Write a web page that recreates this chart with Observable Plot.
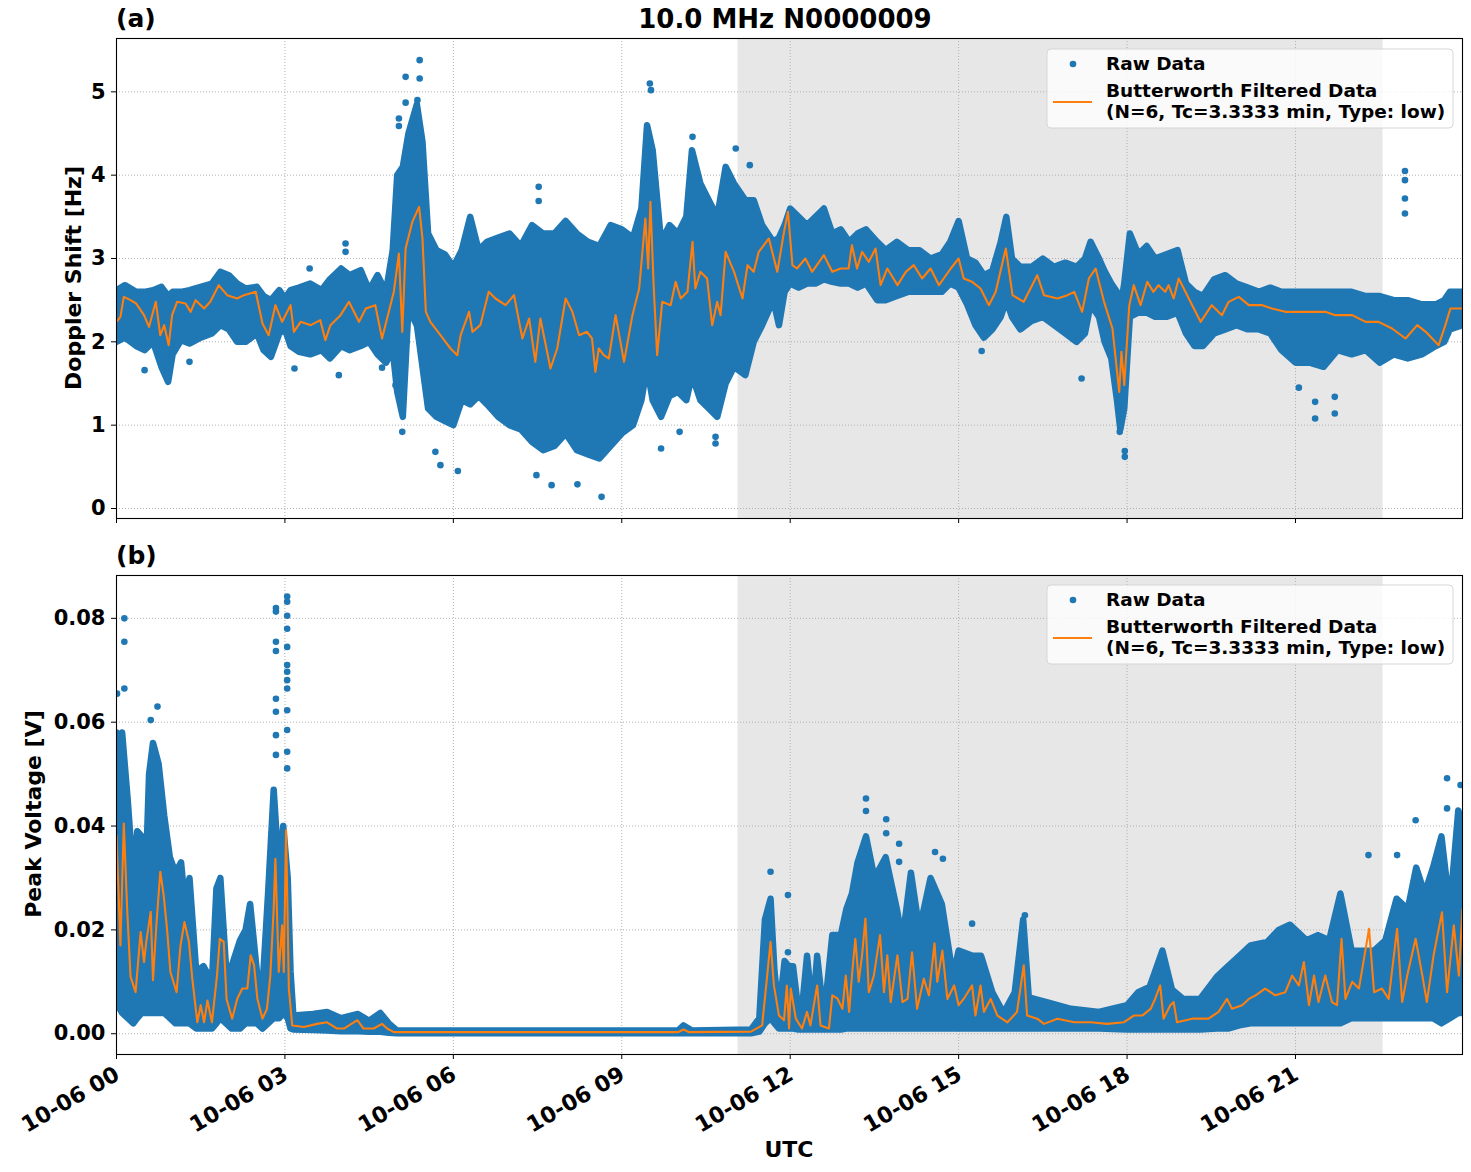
<!DOCTYPE html>
<html>
<head>
<meta charset="utf-8">
<script src="https://cdn.jsdelivr.net/npm/d3@7"></script>
<script src="https://cdn.jsdelivr.net/npm/@observablehq/plot@0.6"></script>
<style>
  body { margin: 0; background: #fff; }
  #fig { position: relative; width: 1471px; height: 1172px; overflow: hidden; background: #fff; }
  #fig > div.panel { position: absolute; left: 0; }
  #overlay { position: absolute; left: 0; top: 0; pointer-events: none; }
  #overlay text { font-family: "DejaVu Sans", sans-serif; font-weight: bold; fill: #000; }
</style>
</head>
<body>
<div id="fig">
  <div class="panel" id="panelA" style="top:0px"></div>
  <div class="panel" id="panelB" style="top:540px"></div>
  <svg id="overlay" width="1471" height="1172"></svg>
</div>
<script>
// ---- time axis (hours of 2024-10-06 UTC) ----
const hourTicks = [0, 3, 6, 9, 12, 15, 18, 21];
const timeDomain = [0, 23.975];
const nightShade = { start: 11.07, end: 22.56 };

// ---- Doppler shift [Hz] ----
const dopplerTicks = [0, 1, 2, 3, 4, 5];
// raw-data cloud: [hour, lower edge, upper edge]
const dopplerRawBand = [
  [0.0,2.0,2.62],[0.15,2.05,2.68],[0.35,1.95,2.6],[0.5,1.9,2.6],[0.65,2.0,2.62],[0.8,1.7,2.66],
  [0.92,1.52,2.55],[1.0,1.85,2.6],[1.15,2.02,2.6],[1.3,1.98,2.62],[1.5,2.05,2.66],[1.7,2.1,2.7],
  [1.85,2.2,2.84],[2.0,2.15,2.8],[2.15,2.0,2.7],[2.3,2.0,2.64],[2.5,2.1,2.66],[2.62,1.9,2.55],
  [2.75,1.82,2.5],[2.9,2.1,2.62],[3.0,2.15,2.52],[3.1,1.95,2.62],[3.25,1.88,2.65],[3.45,1.85,2.7],
  [3.65,1.9,2.62],[3.8,1.8,2.75],[4.0,1.95,2.88],[4.15,1.9,2.8],[4.35,1.95,2.86],[4.5,2.0,2.62],
  [4.65,1.85,2.8],[4.8,1.75,2.6],[4.92,1.9,3.1],[5.0,1.4,4.0],[5.1,1.1,4.1],[5.2,2.4,4.5],
  [5.35,2.2,4.85],[5.45,1.7,4.4],[5.55,1.2,3.3],[5.7,1.1,3.1],[5.85,1.05,3.05],[6.0,1.0,2.9],
  [6.15,1.3,3.1],[6.3,1.25,3.5],[6.45,1.35,3.1],[6.6,1.25,3.2],[6.8,1.1,3.25],[7.0,1.0,3.3],
  [7.2,0.95,3.15],[7.4,0.8,3.4],[7.6,0.7,3.3],[7.8,0.75,3.3],[8.0,0.9,3.45],[8.2,0.7,3.3],
  [8.4,0.65,3.2],[8.6,0.6,3.15],[8.8,0.75,3.4],[9.0,0.9,3.35],[9.2,1.0,3.25],[9.35,1.3,3.6],
  [9.45,1.7,4.6],[9.55,1.3,4.3],[9.7,1.1,3.2],[9.85,1.35,3.4],[10.0,1.4,3.3],[10.15,1.3,3.5],
  [10.25,1.6,4.3],[10.4,1.3,3.9],[10.55,1.2,3.7],[10.7,1.1,3.5],[10.85,1.5,4.1],[11.0,1.7,3.9],
  [11.2,1.6,3.7],[11.35,2.0,3.7],[11.5,2.2,3.4],[11.7,2.5,3.2],[11.8,2.2,3.25],[11.9,2.6,3.4],
  [12.0,2.7,3.6],[12.15,2.65,3.5],[12.3,2.7,3.4],[12.45,2.7,3.5],[12.6,2.75,3.6],[12.75,2.72,3.3],
  [12.9,2.7,3.35],[13.05,2.7,3.2],[13.2,2.65,3.3],[13.35,2.7,3.35],[13.55,2.5,3.2],[13.7,2.5,3.1],
  [13.9,2.55,3.2],[14.1,2.6,3.1],[14.3,2.6,3.1],[14.5,2.6,3.0],[14.7,2.6,3.05],[14.85,2.7,3.2],
  [15.0,2.65,3.45],[15.15,2.45,3.0],[15.3,2.2,2.95],[15.45,2.05,2.8],[15.6,2.15,2.85],[15.75,2.3,3.2],
  [15.85,2.5,3.5],[15.95,2.3,3.0],[16.1,2.15,2.9],[16.3,2.25,2.9],[16.5,2.3,3.0],[16.7,2.2,2.9],
  [16.9,2.1,2.95],[17.1,2.0,2.9],[17.25,2.1,3.0],[17.35,2.45,3.2],[17.5,2.3,3.0],[17.6,2.0,2.85],
  [17.72,1.8,2.7],[17.82,1.3,2.6],[17.88,0.95,2.4],[17.95,1.2,2.7],[18.05,2.3,3.3],[18.2,2.35,3.05],
  [18.35,2.35,3.15],[18.5,2.3,3.0],[18.7,2.3,3.05],[18.9,2.35,3.1],[19.05,2.1,2.7],[19.2,1.95,2.6],
  [19.35,1.95,2.55],[19.55,2.1,2.75],[19.75,2.15,2.8],[19.95,2.2,2.7],[20.15,2.15,2.65],[20.35,2.15,2.6],
  [20.55,2.1,2.65],[20.75,1.9,2.6],[21.0,1.75,2.6],[21.25,1.75,2.6],[21.5,1.7,2.6],[21.75,1.9,2.6],
  [22.0,1.85,2.6],[22.25,1.9,2.55],[22.5,1.75,2.55],[22.75,1.85,2.5],[23.0,1.8,2.5],[23.25,1.85,2.45],
  [23.5,1.95,2.45],[23.65,2.0,2.5],[23.75,2.15,2.6],[23.975,2.2,2.6]
];
// isolated raw samples: [hour, Hz]
const dopplerRawOutliers = [
  [5.4,5.38],[5.15,5.18],[5.4,5.16],[5.15,4.87],[5.36,4.9],[5.03,4.68],[5.03,4.59],[5.09,0.92],
  [4.97,1.48],[5.77,0.52],[5.68,0.68],[4.08,3.18],[4.08,3.08],[3.44,2.88],[3.96,1.6],[0.5,1.66],
  [1.3,1.76],[4.73,1.69],[3.17,1.68],[9.5,5.1],[9.52,5.02],[10.26,4.46],[11.03,4.32],[7.52,3.86],
  [7.52,3.69],[11.28,4.12],[8.64,0.14],[7.75,0.28],[8.21,0.29],[7.48,0.4],[6.08,0.45],[9.7,0.72],
  [10.03,0.92],[10.67,0.78],[10.67,0.86],[15.41,1.89],[17.19,1.56],[17.96,0.62],[17.96,0.69],
  [17.87,0.92],[21.35,1.28],[21.35,1.08],[21.7,1.14],[21.7,1.34],[21.06,1.45],
  [22.95,4.05],[22.95,3.94],[22.95,3.72],[22.95,3.54]
];
// Butterworth low-pass output: [hour, Hz]
const dopplerFiltered = [
  [0,2.24],[0.07,2.3],[0.13,2.54],[0.25,2.5],[0.35,2.46],[0.49,2.32],[0.58,2.18],[0.7,2.48],[0.78,2.08],
  [0.85,2.2],[0.93,1.96],[0.99,2.32],[1.08,2.48],[1.23,2.46],[1.32,2.36],[1.41,2.5],[1.56,2.4],[1.67,2.48],
  [1.82,2.68],[1.97,2.56],[2.15,2.52],[2.27,2.56],[2.48,2.6],[2.6,2.22],[2.71,2.08],[2.83,2.44],[2.95,2.24],
  [3.1,2.44],[3.16,2.12],[3.28,2.24],[3.46,2.2],[3.63,2.26],[3.72,2.02],[3.81,2.2],[3.99,2.32],[4.14,2.48],
  [4.32,2.24],[4.44,2.4],[4.61,2.44],[4.73,2.04],[4.94,2.6],[5.03,3.06],[5.09,2.12],[5.15,3.12],[5.27,3.44],
  [5.39,3.62],[5.45,3.24],[5.51,2.36],[5.59,2.24],[5.77,2.08],[5.95,1.92],[6.07,1.84],[6.13,2.08],[6.28,2.36],
  [6.34,2.12],[6.48,2.2],[6.63,2.6],[6.75,2.52],[6.93,2.44],[7.08,2.56],[7.23,2.04],[7.35,2.28],[7.46,1.76],
  [7.55,2.28],[7.73,1.68],[7.85,1.92],[8.0,2.52],[8.12,2.36],[8.24,2.08],[8.38,2.12],[8.47,2.04],[8.53,1.64],
  [8.59,1.92],[8.68,1.84],[8.77,1.8],[8.89,2.32],[9.04,1.76],[9.19,2.32],[9.31,2.64],[9.42,3.48],[9.47,2.88],
  [9.51,3.68],[9.57,2.64],[9.63,1.84],[9.72,2.48],[9.87,2.44],[9.96,2.72],[10.05,2.52],[10.17,2.6],[10.26,3.2],
  [10.31,2.64],[10.4,2.84],[10.52,2.76],[10.61,2.2],[10.7,2.48],[10.76,2.32],[10.85,3.08],[11.0,2.84],
  [11.15,2.52],[11.24,2.92],[11.35,2.84],[11.44,3.08],[11.62,3.24],[11.77,2.84],[11.89,3.32],[11.96,3.56],
  [12.04,2.92],[12.12,2.88],[12.27,3.0],[12.39,2.84],[12.6,3.04],[12.75,2.84],[12.9,2.88],[13.04,2.88],
  [13.1,3.16],[13.19,2.88],[13.28,3.08],[13.4,2.96],[13.52,3.12],[13.61,2.68],[13.73,2.88],[13.91,2.68],
  [14.06,2.84],[14.2,2.92],[14.35,2.76],[14.5,2.88],[14.65,2.68],[14.86,2.88],[15.0,3.0],[15.09,2.76],
  [15.24,2.72],[15.39,2.64],[15.54,2.44],[15.66,2.6],[15.84,3.12],[15.96,2.56],[16.16,2.48],[16.4,2.8],
  [16.52,2.56],[16.76,2.52],[16.94,2.56],[17.06,2.6],[17.2,2.36],[17.32,2.76],[17.44,2.88],[17.59,2.48],
  [17.74,2.16],[17.86,1.4],[17.9,1.88],[17.95,1.48],[18.04,2.44],[18.12,2.68],[18.24,2.44],[18.36,2.72],
  [18.47,2.6],[18.56,2.68],[18.68,2.6],[18.74,2.68],[18.83,2.52],[18.92,2.76],[19.04,2.6],[19.16,2.44],
  [19.31,2.24],[19.51,2.44],[19.69,2.32],[19.81,2.48],[19.99,2.54],[20.17,2.44],[20.41,2.44],[20.58,2.4],
  [20.82,2.36],[21.06,2.36],[21.3,2.36],[21.53,2.36],[21.71,2.32],[22.01,2.32],[22.25,2.24],[22.48,2.24],
  [22.72,2.16],[22.96,2.04],[23.17,2.2],[23.32,2.12],[23.55,1.96],[23.67,2.2],[23.76,2.4],[23.975,2.4]
];

// ---- Peak voltage [V] ----
const voltageTicks = [0, 0.02, 0.04, 0.06, 0.08];
const voltageRawBand = [
  [0.0,0.006,0.058],[0.05,0.005,0.052],[0.1,0.004,0.058],[0.2,0.003,0.045],[0.3,0.002,0.03],[0.37,0.003,0.039],
  [0.45,0.004,0.038],[0.52,0.004,0.03],[0.58,0.004,0.05],[0.65,0.004,0.056],[0.75,0.004,0.052],[0.85,0.004,0.042],
  [0.95,0.003,0.034],[1.05,0.002,0.031],[1.15,0.002,0.033],[1.22,0.002,0.025],[1.3,0.002,0.03],[1.42,0.001,0.012],
  [1.55,0.001,0.013],[1.7,0.001,0.01],[1.78,0.002,0.028],[1.85,0.003,0.03],[1.95,0.002,0.013],[2.05,0.001,0.013],
  [2.2,0.001,0.018],[2.3,0.002,0.02],[2.38,0.002,0.025],[2.5,0.002,0.012],[2.6,0.001,0.009],[2.7,0.002,0.027],
  [2.8,0.003,0.047],[2.9,0.003,0.03],[2.97,0.004,0.04],[3.05,0.003,0.03],[3.1,0.001,0.012],
  [3.15,0.0008,0.0035],[3.5,0.0007,0.0038],[3.75,0.0006,0.0042],[4.0,0.0005,0.003],[4.3,0.0005,0.0038],
  [4.5,0.0004,0.0025],[4.7,0.0004,0.004],[4.85,0.0002,0.002],[5.0,0.0001,0.0006],[10.0,0.0001,0.0006],
  [10.1,0.0001,0.0016],[10.25,0.0001,0.0006],[11.3,0.0001,0.0008],[11.45,0.0004,0.003],[11.55,0.002,0.022],
  [11.65,0.003,0.026],[11.72,0.002,0.012],[11.8,0.001,0.004],[11.9,0.001,0.014],[11.97,0.001,0.013],
  [12.05,0.001,0.013],[12.15,0.0008,0.004],[12.22,0.0008,0.006],[12.3,0.0008,0.015],[12.4,0.0008,0.004],
  [12.48,0.0008,0.015],[12.6,0.0008,0.003],[12.75,0.0008,0.019],[12.9,0.0008,0.019],[13.0,0.001,0.024],
  [13.1,0.001,0.027],[13.2,0.001,0.033],[13.35,0.001,0.038],[13.5,0.001,0.03],[13.7,0.001,0.034],
  [13.9,0.001,0.024],[14.0,0.001,0.018],[14.15,0.001,0.031],[14.3,0.001,0.02],[14.5,0.001,0.03],
  [14.7,0.001,0.025],[14.9,0.001,0.011],[15.0,0.001,0.016],[15.25,0.001,0.015],[15.4,0.001,0.015],
  [15.6,0.001,0.008],[15.8,0.001,0.004],[16.0,0.001,0.008],[16.15,0.001,0.022],[16.25,0.001,0.007],
  [16.6,0.001,0.006],[17.0,0.001,0.0048],[17.5,0.001,0.0042],[18.0,0.0008,0.0055],[18.2,0.0008,0.008],
  [18.4,0.0008,0.009],[18.5,0.0008,0.012],[18.63,0.0008,0.016],[18.8,0.0008,0.0085],[19.0,0.0008,0.0067],
  [19.3,0.0008,0.0067],[19.6,0.001,0.011],[19.8,0.001,0.013],[20.0,0.0016,0.015],[20.2,0.002,0.017],
  [20.5,0.002,0.0177],[20.7,0.002,0.02],[20.9,0.002,0.021],[21.2,0.002,0.018],[21.4,0.002,0.019],
  [21.6,0.002,0.018],[21.8,0.002,0.027],[22.0,0.003,0.016],[22.2,0.003,0.016],[22.4,0.003,0.016],
  [22.6,0.003,0.018],[22.8,0.003,0.026],[23.0,0.003,0.024],[23.15,0.003,0.032],[23.3,0.003,0.027],
  [23.45,0.003,0.032],[23.6,0.002,0.038],[23.75,0.003,0.024],[23.9,0.004,0.043],[23.975,0.004,0.04]
];
const voltageRawOutliers = [
  [0.14,0.08],[0.14,0.0755],[0.14,0.0665],[0.01,0.0655],[0.61,0.0604],[0.73,0.063],[2.84,0.082],
  [2.84,0.0813],[2.84,0.0755],[2.84,0.0737],[3.04,0.0842],[3.04,0.0832],[3.04,0.0805],[3.04,0.078],
  [3.04,0.0745],[3.04,0.071],[3.04,0.0697],[3.04,0.0681],[3.04,0.0665],[3.04,0.0623],[3.04,0.0585],
  [2.84,0.0645],[2.84,0.062],[2.84,0.0575],[2.84,0.0537],[3.04,0.0543],[3.04,0.0511],[11.65,0.0312],
  [11.96,0.0267],[11.96,0.0157],[13.35,0.0453],[13.35,0.0429],[13.71,0.0413],[13.71,0.0386],
  [13.94,0.0366],[13.94,0.0331],[14.58,0.035],[14.72,0.0337],[15.24,0.0212],[16.18,0.0228],
  [23.7,0.0492],[23.7,0.0434],[23.14,0.0411],[23.94,0.0479],[22.3,0.0344],[22.81,0.0344]
];
const voltageFiltered = [
  [0,0.0382],[0.07,0.017],[0.13,0.0405],[0.19,0.024],[0.25,0.011],[0.34,0.008],[0.43,0.0196],[0.49,0.0138],
  [0.53,0.0177],[0.61,0.0235],[0.65,0.0103],[0.71,0.0209],[0.78,0.0312],[0.84,0.0267],[0.9,0.0202],
  [0.96,0.0119],[1.07,0.008],[1.14,0.017],[1.21,0.0215],[1.29,0.0177],[1.35,0.0106],[1.44,0.0022],
  [1.5,0.0055],[1.56,0.0022],[1.62,0.0064],[1.7,0.0022],[1.79,0.0112],[1.84,0.0183],[1.91,0.0177],
  [1.96,0.0067],[2.06,0.0029],[2.15,0.0067],[2.24,0.0087],[2.33,0.0087],[2.39,0.0151],[2.45,0.0132],
  [2.51,0.0067],[2.6,0.0029],[2.68,0.0048],[2.74,0.0112],[2.8,0.0241],[2.83,0.0337],[2.89,0.0119],
  [2.95,0.0209],[2.98,0.0119],[3.02,0.0392],[3.07,0.0087],[3.13,0.0016],[3.34,0.0013],[3.57,0.0019],
  [3.75,0.0022],[3.93,0.001],[4.05,0.001],[4.29,0.0026],[4.4,0.001],[4.58,0.001],[4.73,0.0019],
  [4.82,0.001],[4.94,0.0003],[10.0,0.0003],[10.1,0.0008],[10.2,0.0003],[11.3,0.0004],[11.5,0.0016],
  [11.59,0.0112],[11.65,0.0177],[11.71,0.0093],[11.8,0.0035],[11.89,0.0026],[11.94,0.0093],[11.98,0.001],
  [12.01,0.0087],[12.1,0.0029],[12.21,0.001],[12.3,0.0042],[12.36,0.0016],[12.48,0.0093],[12.54,0.0016],
  [12.69,0.001],[12.75,0.0074],[12.84,0.0068],[12.93,0.0048],[12.99,0.0112],[13.05,0.0042],[13.1,0.0112],
  [13.16,0.0183],[13.22,0.01],[13.28,0.0151],[13.34,0.0222],[13.4,0.008],[13.49,0.0112],[13.6,0.019],
  [13.67,0.008],[13.73,0.0151],[13.79,0.0061],[13.91,0.0151],[14.0,0.0061],[14.09,0.0067],[14.17,0.0157],
  [14.26,0.0048],[14.38,0.0106],[14.47,0.0074],[14.57,0.0174],[14.62,0.01],[14.71,0.016],[14.8,0.0067],
  [14.92,0.0093],[15.0,0.0055],[15.09,0.0067],[15.24,0.0093],[15.3,0.0035],[15.39,0.0093],[15.45,0.0042],
  [15.57,0.0067],[15.69,0.0035],[15.87,0.0022],[16.04,0.0042],[16.16,0.0132],[16.22,0.0035],[16.4,0.0029],
  [16.52,0.0019],[16.76,0.0029],[17.06,0.0022],[17.35,0.0022],[17.65,0.0019],[17.94,0.0022],[18.12,0.0035],
  [18.27,0.0035],[18.42,0.0048],[18.5,0.0067],[18.59,0.0093],[18.65,0.0029],[18.77,0.0055],[18.83,0.0061],
  [18.89,0.0022],[19.16,0.0029],[19.45,0.0029],[19.63,0.0042],[19.78,0.0067],[19.87,0.0048],[20.05,0.0055],
  [20.17,0.0067],[20.29,0.0074],[20.46,0.0087],[20.64,0.0074],[20.82,0.008],[20.94,0.0112],[21.06,0.0093],
  [21.15,0.0138],[21.24,0.0055],[21.33,0.0112],[21.41,0.0061],[21.53,0.0112],[21.65,0.0061],[21.74,0.0055],
  [21.82,0.0183],[21.89,0.0067],[22.01,0.01],[22.13,0.0087],[22.31,0.0202],[22.4,0.008],[22.54,0.0087],
  [22.66,0.0067],[22.81,0.0202],[22.9,0.0061],[22.99,0.0112],[23.14,0.0183],[23.26,0.0112],[23.34,0.0061],
  [23.46,0.0151],[23.61,0.0234],[23.7,0.008],[23.82,0.0209],[23.91,0.0112],[23.975,0.024]
];

// ---- styling ----
const BLUE = "#1f77b4", ORANGE = "#ff7f0e";
const FONT = "DejaVu Sans";
const hourLabel = h => `10-06 ${String(h).padStart(2, "0")}`;

function panel({band, outliers, filtered, yDomain, yTicks, yFormat, height, marginTop, marginBottom, showX}) {
  const rows = band.map(([t, lo, hi]) => ({t, lo, hi}));
  const xAxis = [Plot.axisX(hourTicks, {tickFormat: () => "", tickSize: 5, label: null})];
  if (showX) {
    // rotated date labels, right end hung just below each tick
    xAxis.push(Plot.axisX(hourTicks, {tickFormat: hourLabel, tickRotate: -30, tickSize: 0, tickPadding: 18, dx: 1, label: null, fontSize: 22}));
  }
  return Plot.plot({
    width: 1471, height, marginTop, marginBottom, marginLeft: 116, marginRight: 9,
    style: {fontFamily: FONT, fontSize: "21px", fontWeight: "bold", color: "#000", background: "transparent", overflow: "visible"},
    x: {domain: timeDomain},
    y: {domain: yDomain},
    marks: [
      Plot.rect([nightShade], {x1: "start", x2: "end", fill: "#e7e7e7"}),
      Plot.gridX(hourTicks, {stroke: "#b0b0b0", strokeOpacity: 1, strokeWidth: 1, strokeDasharray: "1,2"}),
      Plot.gridY(yTicks, {stroke: "#b0b0b0", strokeOpacity: 1, strokeWidth: 1, strokeDasharray: "1,2"}),
      // dense raw samples
      Plot.areaY(rows, {x: "t", y1: "lo", y2: "hi", fill: BLUE, clip: true}),
      Plot.line(rows, {x: "t", y: "lo", stroke: BLUE, strokeWidth: 6.5, clip: true}),
      Plot.line(rows, {x: "t", y: "hi", stroke: BLUE, strokeWidth: 6.5, clip: true}),
      Plot.dot(outliers, {x: d => d[0], y: d => d[1], r: 3.3, fill: BLUE, clip: true}),
      // filtered series
      Plot.line(filtered, {x: d => d[0], y: d => d[1], stroke: ORANGE, strokeWidth: 2.1, clip: true}),
      Plot.axisY(yTicks, {tickFormat: yFormat, tickSize: 5, tickPadding: 6, label: null, fontSize: 21}),
      ...xAxis,
      Plot.frame({stroke: "#000", strokeWidth: 1.1})
    ]
  });
}

document.getElementById("panelA").append(panel({
  band: dopplerRawBand, outliers: dopplerRawOutliers, filtered: dopplerFiltered,
  yDomain: [-0.12, 5.64], yTicks: dopplerTicks, yFormat: d3.format("d"),
  height: 540, marginTop: 38, marginBottom: 22, showX: false
}));
document.getElementById("panelB").append(panel({
  band: voltageRawBand, outliers: voltageRawOutliers, filtered: voltageFiltered,
  yDomain: [-0.004, 0.08825], yTicks: voltageTicks, yFormat: d3.format(".2f"),
  height: 632, marginTop: 35, marginBottom: 118, showX: true
}));

// ---- titles, axis labels and legends ----
const ov = d3.select("#overlay");
ov.append("text").attr("x", 785).attr("y", 28).attr("text-anchor", "middle").attr("font-size", 26).text("10.0 MHz N0000009");
ov.append("text").attr("x", 116).attr("y", 27).attr("font-size", 25).text("(a)");
ov.append("text").attr("x", 116).attr("y", 564).attr("font-size", 25).text("(b)");
ov.append("text").attr("transform", "translate(81,278) rotate(-90)").attr("text-anchor", "middle").attr("font-size", 22).text("Doppler Shift [Hz]");
ov.append("text").attr("transform", "translate(41,814) rotate(-90)").attr("text-anchor", "middle").attr("font-size", 22).text("Peak Voltage [V]");
ov.append("text").attr("x", 789).attr("y", 1157).attr("text-anchor", "middle").attr("font-size", 22).text("UTC");

function legend(top) {
  const g = ov.append("g").attr("transform", `translate(1047,${top})`);
  g.append("rect").attr("width", 406).attr("height", 79).attr("rx", 4)
    .attr("fill", "#ffffff").attr("fill-opacity", 0.8).attr("stroke", "#d6d6d6");
  g.append("circle").attr("cx", 26).attr("cy", 15).attr("r", 3.3).attr("fill", BLUE);
  g.append("line").attr("x1", 6).attr("x2", 45).attr("y1", 53).attr("y2", 53).attr("stroke", ORANGE).attr("stroke-width", 2.1);
  const t = g.append("g").attr("font-size", 18.5);
  t.append("text").attr("x", 59).attr("y", 21).text("Raw Data");
  t.append("text").attr("x", 59).attr("y", 48).text("Butterworth Filtered Data");
  t.append("text").attr("x", 59).attr("y", 69).text("(N=6, Tc=3.3333 min, Type: low)");
}
legend(49);
legend(585);
</script>
</body>
</html>
